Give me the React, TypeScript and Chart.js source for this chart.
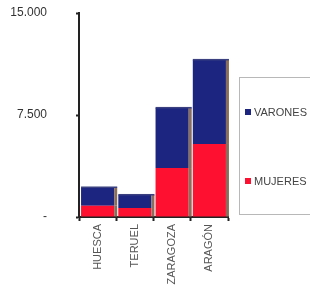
import React, { useEffect, useRef } from "react";
import { Chart, registerables } from "chart.js";

Chart.register(...registerables);

const categories = ["HUESCA", "TERUEL", "ZARAGOZA", "ARAGÓN"];
const mujeres = [830, 660, 3600, 5370];
const varones = [1340, 960, 4420, 6180];
const seriesLabels = ["MUJERES", "VARONES"];
const yTickValues = [0, 7500, 15000];

const FONT = "'Liberation Sans', Arial, sans-serif";

const shadowPlugin = {
  id: "barShadow",
  afterDatasetsDraw(chart: any) {
    const ctx = chart.ctx;
    ctx.save();
    chart.data.datasets.forEach((_ds: any, di: number) => {
      const meta = chart.getDatasetMeta(di);
      meta.data.forEach((bar: any) => {
        const p = bar.getProps(["x", "y", "base", "width"], true);
        const right = p.x + p.width / 2;
        ctx.fillStyle = "#8a6e5c";
        ctx.fillRect(right, Math.min(p.y, p.base), 3, Math.abs(p.base - p.y));
      });
    });
    const topMeta = chart.getDatasetMeta(chart.data.datasets.length - 1);
    topMeta.data.forEach((bar: any) => {
      const p = bar.getProps(["x", "y", "width"], true);
      ctx.fillStyle = "#3a4080";
      ctx.fillRect(p.x - p.width / 2, p.y - 1, p.width + 3, 1.5);
    });
    ctx.restore();
  },
};

const legendPlugin = {
  id: "boxLegend",
  afterDraw(chart: any) {
    const ctx = chart.ctx;
    ctx.save();
    const left = 239;
    const top = 77;
    const bottom = 214;
    ctx.strokeStyle = "#b8b8b8";
    ctx.lineWidth = 1;
    ctx.strokeRect(left + 0.5, top + 0.5, 100, bottom - top);
    const items = [
      { label: chart.data.datasets[1].label, color: chart.data.datasets[1].backgroundColor, y: 112 },
      { label: chart.data.datasets[0].label, color: chart.data.datasets[0].backgroundColor, y: 181 },
    ];
    ctx.font = `11px ${FONT}`;
    ctx.textBaseline = "middle";
    ctx.textAlign = "left";
    items.forEach((it) => {
      ctx.fillStyle = it.color;
      ctx.fillRect(245, it.y - 3, 6, 6);
      ctx.fillStyle = "#444";
      ctx.fillText(it.label, 254, it.y + 0.5);
    });
    ctx.restore();
  },
};

export default function App() {
  const ref = useRef<HTMLCanvasElement>(null);
  useEffect(() => {
    document.body.style.margin = "0";
    const chart = new Chart(ref.current!, {
      type: "bar",
      data: {
        labels: categories,
        datasets: [
          {
            label: seriesLabels[0],
            data: mujeres,
            backgroundColor: "#fe1030",
            barPercentage: 0.89,
            categoryPercentage: 1,
          },
          {
            label: seriesLabels[1],
            data: varones,
            backgroundColor: "#1c2580",
            barPercentage: 0.89,
            categoryPercentage: 1,
          },
        ],
      },
      options: {
        animation: false,
        responsive: false,
        devicePixelRatio: 1,
        layout: { padding: { top: 13, right: 82, left: 0, bottom: 0 } },
        plugins: { legend: { display: false }, tooltip: { enabled: false } },
        scales: {
          x: {
            stacked: true,
            border: { display: true, color: "#222", width: 2 },
            grid: {
              display: true,
              drawOnChartArea: false,
              drawTicks: true,
              tickLength: 4,
              tickWidth: 2,
              tickColor: "#222",
              offset: true,
            },
            ticks: {
              minRotation: 90,
              maxRotation: 90,
              padding: 3,
              color: "#555",
              font: { family: FONT, size: 11 },
            },
            afterFit(scale: any) {
              scale.height = 70;
            },
          },
          y: {
            stacked: true,
            min: 0,
            max: 15000,
            border: { display: true, color: "#222", width: 2 },
            grid: {
              display: true,
              drawOnChartArea: false,
              drawTicks: true,
              tickLength: 3,
              tickWidth: 2,
              tickColor: "#222",
            },
            afterBuildTicks(scale: any) {
              scale.ticks = yTickValues.map((v) => ({ value: v }));
            },
            ticks: {
              padding: 29,
              color: "#333",
              font: { family: FONT, size: 12 },
              callback(v: any) {
                const n = Number(v);
                if (n === 0) return "-";
                return n.toLocaleString("de-DE");
              },
            },
            afterFit(scale: any) {
              scale.width = 79;
              scale.paddingTop = 0;
              scale.paddingBottom = 0;
            },
          },
        },
      },
      plugins: [shadowPlugin, legendPlugin],
    });
    return () => chart.destroy();
  }, []);
  return (
    <div style={{ width: 310, height: 287 }}>
      <canvas ref={ref} width={310} height={287} style={{ display: "block" }} />
    </div>
  );
}
